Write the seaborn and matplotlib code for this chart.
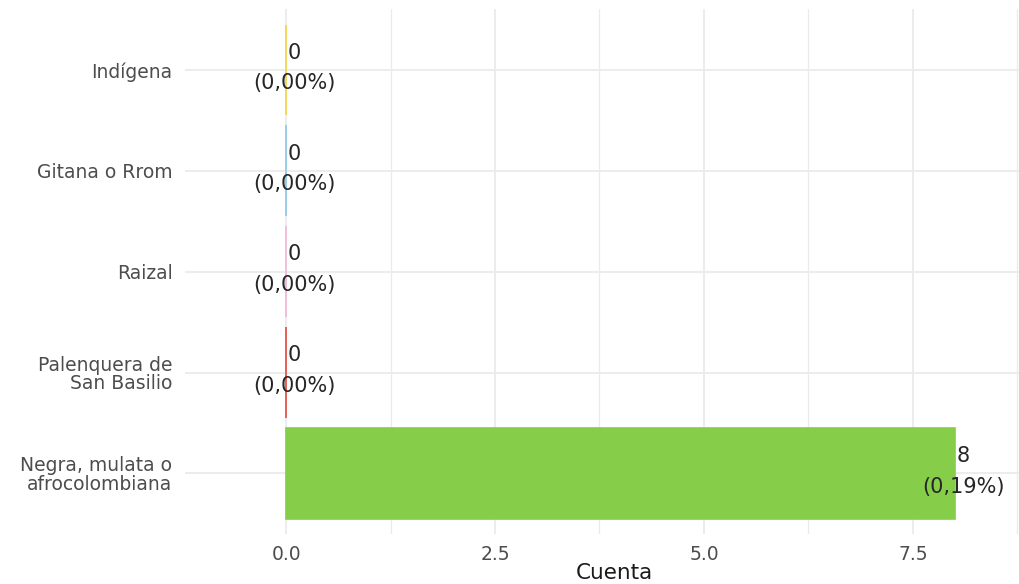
import numpy as np
import pandas as pd
import matplotlib
matplotlib.use("Agg")
import matplotlib.pyplot as plt
import seaborn as sns

# datos
categorias = ["Indígena", "Gitana o Rrom", "Raizal",
              "Palenquera de\nSan Basilio", "Negra, mulata o\nafrocolombiana"]
cuentas = [0, 0, 0, 0, 8]
porcentajes = ["0,00%", "0,00%", "0,00%", "0,00%", "0,19%"]
colores = ["#F5D445", "#8DC7E8", "#F2B8D6", "#E8473F", "#86CD4A"]
ticks_x = [0.0, 2.5, 5.0, 7.5]
ticks_x_menor = [1.25, 3.75, 6.25, 8.75]

df = pd.DataFrame({"categoria": categorias, "cuenta": cuentas})

sns.set_theme(style="white")
plt.rcParams["font.family"] = ["DejaVu Sans"]

fig = plt.figure(figsize=(10.19, 5.84), dpi=100)
ax = fig.add_axes([185 / 1019, 50 / 584, 834 / 1019, 524.6 / 584])

sns.barplot(data=df, y="categoria", x="cuenta", hue="categoria",
            palette=colores, order=categorias, hue_order=categorias,
            orient="h", width=0.9, saturation=1, legend=False, ax=ax, zorder=3)

# barras en cero visibles como linea fina
for patch, col in zip(ax.patches, colores):
    patch.set_edgecolor(col)
    patch.set_linewidth(1.2)

for i, (c, p) in enumerate(zip(cuentas, porcentajes)):
    ax.text(c + 0.1, i - 0.02, f"{c}\n({p})", ha="center", va="center",
            multialignment="center", fontsize=15, color="#262626",
            linespacing=1.65, zorder=4)

ax.set_xlim(-1.21, 8.77)
ax.set_ylim(4.6, -0.6)
ax.set_xticks(ticks_x)
ax.set_xticklabels([f"{t:.1f}" for t in ticks_x])
ax.set_xticks(ticks_x_menor, minor=True)
ax.grid(True, which="major", color="#EBEBEB", linewidth=1.3, zorder=0)
ax.grid(True, which="minor", axis="x", color="#EBEBEB", linewidth=1.0, zorder=0)
ax.set_axisbelow(True)
for s in ax.spines.values():
    s.set_visible(False)

ax.tick_params(axis="both", length=0, labelsize=13.5, labelcolor="#4d4d4d")
ax.tick_params(axis="x", pad=8)
ax.tick_params(axis="y", pad=9)
for lab in ax.get_yticklabels():
    lab.set_multialignment("right")
    lab.set_linespacing(0.95)

ax.set_ylabel("")
ax.set_xlabel("Cuenta", fontsize=15.5, color="#1a1a1a")
ax.xaxis.set_label_coords(0.515, -0.055)

fig.savefig("out.png", dpi=100)
